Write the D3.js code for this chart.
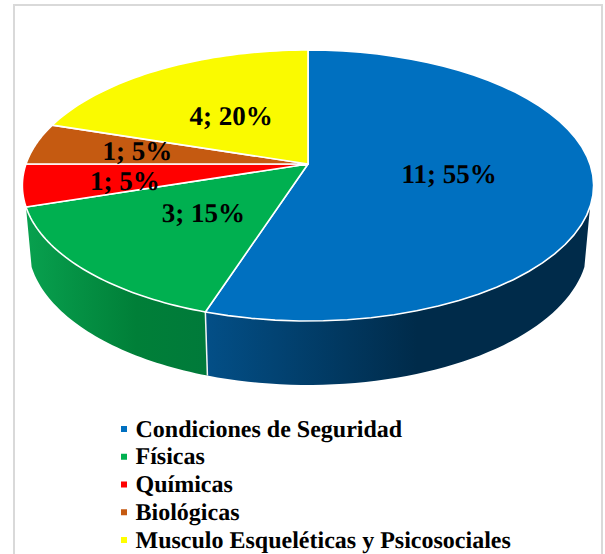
<!DOCTYPE html>
<html><head><meta charset="utf-8">
<script src="https://cdn.jsdelivr.net/npm/d3@7/dist/d3.min.js"></script>
<style>html,body{margin:0;padding:0;background:#fff}svg{display:block}text{font-family:"Liberation Serif",serif;font-weight:bold;fill:#000;text-rendering:geometricPrecision}</style>
</head><body><div id="c"></div>
<script>
const categories=["Condiciones de Seguridad","Físicas","Químicas","Biológicas","Musculo Esqueléticas y Psicosociales"];
const values=[11,3,1,1,4];
const percents=[55,15,5,5,20];
const colors=["#0070C0","#00B050","#FF0000","#C55A11","#FAFA00"];
const labelNudge=[[0,0],[1,0],[-42,7],[-33,-3],[1,2]];
const W=605,H=554;
const svg=d3.select("#c").append("svg").attr("width",W).attr("height",H);
svg.append("rect").attr("x",14).attr("y",5).attr("width",588).attr("height",H).attr("fill","#fff").attr("stroke","#d9d9d9").attr("stroke-width",2);

const cx=308,cy=164,B=282,A=132.1,k=-0.1587;
const proj=(t,r=1,sx=1,sy=1,dy=0)=>{const x=Math.sin(t)*r,y=-Math.cos(t)*r,d=1+k*y;return [cx+sx*B*x/d,cy+dy+sy*A*y/d];};
const bottom=t=>proj(t,1,0.98,1.034,58.6);
const arcs=d3.pie().sort(null).value(d=>d)(values);
const line=d3.line();
const samples=(a,b)=>d3.range(0,1.0001,1/48).map(u=>a+(b-a)*u);
const defs=svg.append("defs");
function grad(id,x1,x2,stops){const g=defs.append("linearGradient").attr("id",id).attr("gradientUnits","userSpaceOnUse").attr("x1",x1).attr("x2",x2).attr("y1",0).attr("y2",0);
 stops.forEach(s=>g.append("stop").attr("offset",s[0]).attr("stop-color",s[1]));}
grad("gBlue",206,590,[[0,"#034f87"],[0.55,"#002b4a"],[1,"#002b4a"]]);
grad("gGreen",28,208,[[0,"#08a04e"],[0.6,"#007f38"],[1,"#007a3a"]]);

// visible side walls
const sideStart=arcs[0].startAngle+Math.PI*0.6;
[[sideStart,arcs[0].endAngle,"url(#gBlue)"],[arcs[1].startAngle,arcs[1].endAngle,"url(#gGreen)"]].forEach(([a,b,f])=>{
 const s=samples(a,b);
 svg.append("path").attr("d",line([...s.map(t=>proj(t)),...s.slice().reverse().map(bottom)])+"Z").attr("fill",f);
});
// white seam on the side
svg.append("path").attr("d",line([proj(arcs[1].startAngle),bottom(arcs[1].startAngle)])).attr("stroke","#f4f4f4").attr("stroke-width",1.5).attr("fill","none");

// top face
svg.selectAll("path.top").data(arcs).join("path").attr("class","top")
 .attr("d",d=>line([[cx,cy],...samples(d.startAngle,d.endAngle).map(t=>proj(t))])+"Z")
 .attr("fill",(d,i)=>colors[i]).attr("stroke","#fff").attr("stroke-width",1.6).attr("stroke-linejoin","round");

// data labels
svg.selectAll("text.lab").data(arcs).join("text").attr("class","lab")
 .attr("x",(d,i)=>proj((d.startAngle+d.endAngle)/2,0.5)[0]+labelNudge[i][0])
 .attr("y",(d,i)=>proj((d.startAngle+d.endAngle)/2,0.5)[1]+labelNudge[i][1]+9)
 .attr("text-anchor","middle").attr("font-size",27)
 .text((d,i)=>`${values[i]}; ${percents[i]}%`);

// legend
const ly=d3.scalePoint().domain(categories).range([429,540]);
const lg=svg.selectAll("g.leg").data(categories).join("g").attr("class","leg").attr("transform",d=>`translate(0,${ly(d)})`);
lg.append("rect").attr("x",121).attr("y",-3).attr("width",6).attr("height",6).attr("fill",(d,i)=>colors[i]==="#FAFA00"?"#FFFF00":colors[i]);
lg.append("text").attr("x",135.5).attr("y",7.5).attr("font-size",24).text(d=>d);
</script></body></html>
